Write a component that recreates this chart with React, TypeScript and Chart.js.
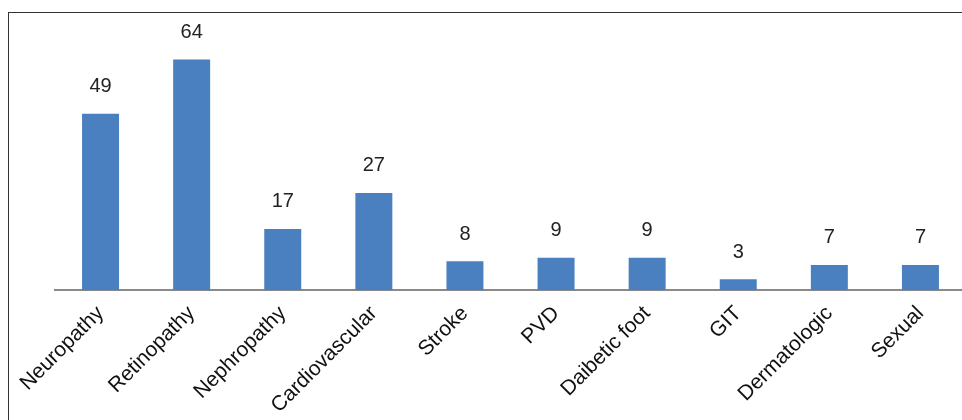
import React, { useEffect, useRef } from "react";
import { Chart, registerables } from "chart.js";

Chart.register(...registerables);

const categories = [
  "Neuropathy",
  "Retinopathy",
  "Nephropathy",
  "Cardiovascular",
  "Stroke",
  "PVD",
  "Daibetic foot",
  "GIT",
  "Dermatologic",
  "Sexual",
];
const values = [49, 64, 17, 27, 8, 9, 9, 3, 7, 7];

const valueLabels = {
  id: "valueLabels",
  afterDatasetsDraw(chart: any) {
    const ctx = chart.ctx;
    const meta = chart.getDatasetMeta(0);
    ctx.save();
    ctx.font = "20px 'Liberation Sans', Arial, sans-serif";
    ctx.fillStyle = "#222222";
    ctx.textAlign = "center";
    ctx.textBaseline = "middle";
    meta.data.forEach((bar: any, i: number) => {
      ctx.fillText(String(values[i]), bar.x, bar.y - 27);
    });
    ctx.restore();
  },
};

export default function App() {
  const ref = useRef<HTMLCanvasElement | null>(null);
  useEffect(() => {
    if (!ref.current) return;
    const chart = new Chart(ref.current, {
      type: "bar",
      data: {
        labels: categories,
        datasets: [
          {
            data: values,
            backgroundColor: "#4a7fc0",
            categoryPercentage: 1,
            barPercentage: 0.406,
          },
        ],
      },
      options: {
        responsive: false,
        animation: false,
        devicePixelRatio: 1,
        layout: { padding: { left: 47, right: 4, top: 26, bottom: 0 } },
        plugins: { legend: { display: false }, tooltip: { enabled: false } },
        scales: {
          x: {
            grid: { display: false },
            border: { display: true, color: "#8a8a8a", width: 2 },
            ticks: {
              autoSkip: false,
              maxRotation: 45,
              minRotation: 45,
              color: "#111111",
              padding: 3,
              font: { family: "'Liberation Sans', Arial, sans-serif", size: 21 },
            },
          },
          y: {
            display: false,
            min: 0,
            max: 70,
          },
        },
      },
      plugins: [valueLabels],
    });
    return () => chart.destroy();
  }, []);
  return (
    <div
      style={{
        position: "fixed",
        left: 8,
        top: 12,
        width: 954,
        height: 408,
        overflow: "hidden",
        borderTop: "1.5px solid #333",
        borderLeft: "1.5px solid #333",
        boxSizing: "border-box",
      }}
    >
      <canvas
        ref={ref}
        width={962}
        height={409}
        style={{ display: "block", position: "absolute", left: -1.5, top: -1.5 }}
      />
    </div>
  );
}
